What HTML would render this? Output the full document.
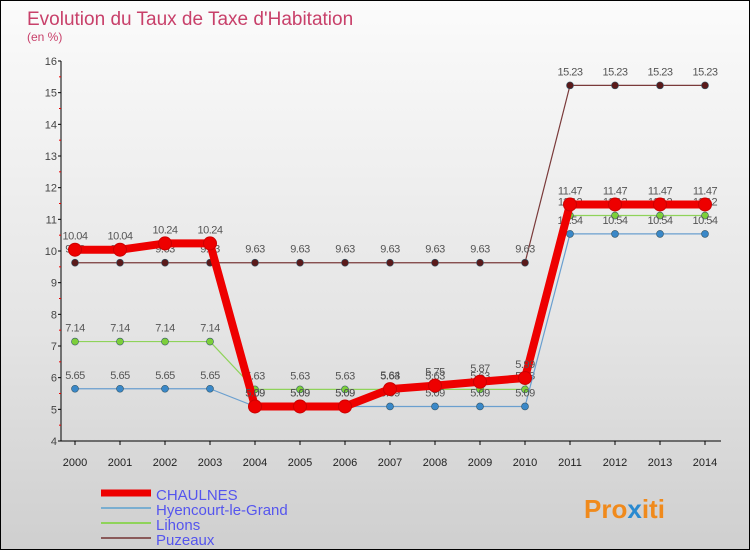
<!DOCTYPE html>
<html><head><meta charset="utf-8"><style>
body{margin:0}
#c{width:748px;height:548px;border:1px solid #000;background:linear-gradient(#fbfbfb,#e4e4e4 60%,#cfcfcf);position:relative;font-family:"Liberation Sans",sans-serif;overflow:hidden}
</style></head><body>
<div id="c">
<svg id="s" width="748" height="548" xmlns="http://www.w3.org/2000/svg">
<text x="26" y="24" font-size="19" fill="#c8406a">Evolution du Taux de Taxe d'Habitation</text>
<text x="26" y="40" font-size="12" fill="#c8406a">(en %)</text>
<g id="axes"></g><g id="series"></g><g id="legend"></g>
<text x="583" y="517" font-size="26" font-weight="bold" fill="#f08a1c">Pro<tspan fill="#2a8ad0">x</tspan>iti</text>
</svg>
</div>
<script>
const years=[2000,2001,2002,2003,2004,2005,2006,2007,2008,2009,2010,2011,2012,2013,2014];
const yTicks=[4,5,6,7,8,9,10,11,12,13,14,15,16];
const chaulnes=[10.04,10.04,10.24,10.24,5.09,5.09,5.09,5.64,5.75,5.87,5.99,11.47,11.47,11.47,11.47];
const hyencourt=[5.65,5.65,5.65,5.65,5.09,5.09,5.09,5.09,5.09,5.09,5.09,10.54,10.54,10.54,10.54];
const lihons=[7.14,7.14,7.14,7.14,5.63,5.63,5.63,5.63,5.63,5.63,5.63,11.12,11.12,11.12,11.12];
const puzeaux=[9.63,9.63,9.63,9.63,9.63,9.63,9.63,9.63,9.63,9.63,9.63,15.23,15.23,15.23,15.23];
const seriesNames=["CHAULNES","Hyencourt-le-Grand","Lihons","Puzeaux"];
const NS="http://www.w3.org/2000/svg";
const X=i=>74+i*45, Y=v=>440-(v-4)*(380/12);
function mk(t,a,p){const e=document.createElementNS(NS,t);for(const k in a)e.setAttribute(k,a[k]);p.appendChild(e);return e;}
const ax=document.getElementById('axes');
let yl=mk('line',{x1:60,y1:60,x2:60,y2:440,stroke:'#000'},ax);


let xl=mk('line',{x1:60,y1:440,x2:720,y2:440,stroke:'#000'},ax);


yTicks.forEach(v=>{mk('line',{x1:57,y1:Y(v),x2:60,y2:Y(v),stroke:'#000'},ax);
 if(v<16)mk('line',{x1:58,y1:Y(v+0.5),x2:60,y2:Y(v+0.5),stroke:'#e00'},ax);
 const t=mk('text',{x:56,y:Y(v)+4,'font-size':11,fill:'#444','text-anchor':'end'},ax);t.textContent=v;
 
 });
years.forEach((y,i)=>{mk('line',{x1:X(i),y1:440,x2:X(i),y2:444,stroke:'#000'},ax);
 const t=mk('text',{x:X(i),y:465,'font-size':11,fill:'#222','text-anchor':'middle'},ax);t.textContent=y;
 
 });
const sg=document.getElementById('series');
const defs=[[puzeaux,'#7a3a3a','#5a1a1a',1.2,3.5,'puzeaux'],[lihons,'#8fd35a','#7ccf3a',1.2,3.5,'lihons'],[hyencourt,'#6a9fcf','#3a88c8',1.2,3.5,'hyencourt'],[chaulnes,'#ee0000','#ee0000',8,6.5,'chaulnes']];
defs.forEach(([d,c,fc,w,r,n])=>{
 const p=mk('polyline',{points:d.map((v,i)=>X(i)+','+Y(v)).join(' '),fill:'none',stroke:c,'stroke-width':w,'stroke-linejoin':'round'},sg);
 
 
 d.forEach((v,i)=>{const m=mk('circle',{cx:X(i),cy:Y(v),r:r,fill:fc,stroke:n=='chaulnes'?'#c00':'#356',"stroke-width":n=='chaulnes'?1:0.6},sg);
  
  
  const t=mk('text',{x:X(i),y:Y(v)-10,'font-size':11,fill:'#555','text-anchor':'middle','letter-spacing':'-0.5'},sg);t.textContent=v.toFixed(2);
  
  });
});
const lg=document.getElementById('legend');
const lc=['#ee0000','#7aaed0','#8fd35a','#8a5a5a'],lw=[7,2,2,2];
seriesNames.forEach((s,i)=>{const y=492+i*15;
 const l=mk('line',{x1:100,y1:y,x2:150,y2:y,stroke:lc[i],'stroke-width':lw[i]},lg);
 
 
 const t=mk('text',{x:155,y:y+7,'font-size':15,fill:'#5555ee'},lg);t.textContent=s;
 
 });
</script>
</body></html>
